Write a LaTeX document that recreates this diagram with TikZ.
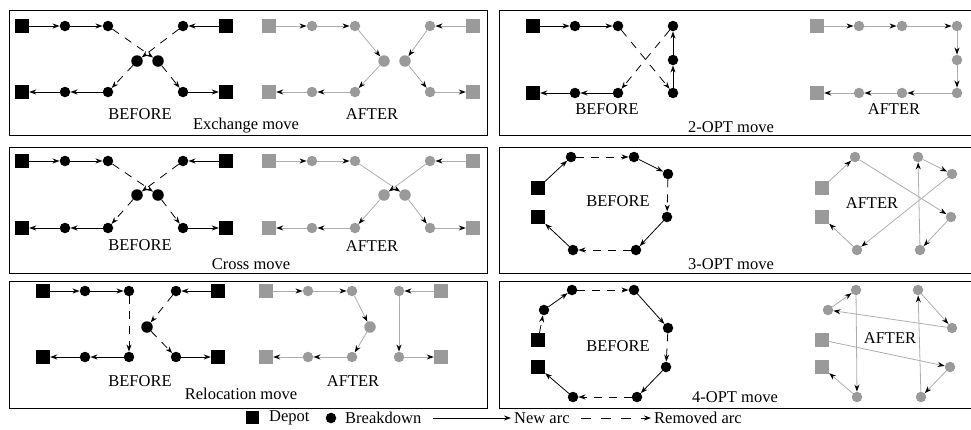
\documentclass[tikz,border=0pt]{standalone}
\usepackage{fontspec}
\setmainfont{Liberation Serif}
\usetikzlibrary{arrows.meta}
\definecolor{gnode}{HTML}{9A9A9A}
\definecolor{gline}{HTML}{ADADAD}
\begin{document}
\begin{tikzpicture}[x=1pt,y=-1pt,
 depot/.style={rectangle,fill=black,minimum size=14pt,inner sep=0pt},
 bd/.style={circle,fill=black,minimum size=10.5pt,inner sep=0pt},
 gdepot/.style={depot,fill=gnode},
 gbd/.style={bd,fill=gnode},
 arc/.style={draw=black,line width=0.8pt,-{Stealth[length=7pt,width=5pt,color=black]}},
 rarc/.style={arc,dash pattern=on 8pt off 7pt},
 garc/.style={arc,draw=gline},
 lbl/.style={font=\fontsize{16.5}{19}\selectfont,inner sep=0pt},
 panel/.style={draw=black,line width=1pt}]
\useasboundingbox (0,0) rectangle (971,429);
% panels
\draw[panel] (9,10) rectangle (487,135);
\draw[panel] (499,10) rectangle (985,135);
\draw[panel] (9,147) rectangle (487,273);
\draw[panel] (499,147) rectangle (985,273);
\draw[panel] (9,281) rectangle (487,408);
\draw[panel] (499,281) rectangle (985,408);

% ---------- Exchange move ----------
\node[depot] (e-d1) at (22,26) {};
\node[bd] (e-a1) at (65,26) {};
\node[bd] (e-a2) at (108,26) {};
\node[bd] (e-b1) at (183,26) {};
\node[depot] (e-d2) at (226,26) {};
\node[bd,minimum size=11.5pt] (e-m1) at (137,61) {};
\node[bd,minimum size=11.5pt] (e-m2) at (158,61) {};
\node[depot] (e-d3) at (22,92) {};
\node[bd] (e-c1) at (65,92) {};
\node[bd] (e-c2) at (108,92) {};
\node[bd] (e-f1) at (183,92) {};
\node[depot] (e-d4) at (226,92) {};
\draw[arc] (e-d1) -- (e-a1);
\draw[arc] (e-a1) -- (e-a2);
\draw[rarc] (e-a2) -- (e-m2);
\draw[arc] (e-d2) -- (e-b1);
\draw[rarc] (e-b1) -- (e-m1);
\draw[rarc] (e-m1) -- (e-c2);
\draw[arc] (e-c2) -- (e-c1);
\draw[arc] (e-c1) -- (e-d3);
\draw[rarc] (e-m2) -- (e-f1);
\draw[arc] (e-f1) -- (e-d4);
\node[lbl] (e-bef) at (140,114) {BEFORE};
\begin{scope}[xshift=247pt]
\node[gdepot] (ea-d1) at (22,26) {};
\node[gbd] (ea-a1) at (65,26) {};
\node[gbd] (ea-a2) at (108,26) {};
\node[gbd] (ea-b1) at (183,26) {};
\node[gdepot] (ea-d2) at (226,26) {};
\node[gbd,minimum size=11.5pt] (ea-m1) at (137,61) {};
\node[gbd,minimum size=11.5pt] (ea-m2) at (158,61) {};
\node[gdepot] (ea-d3) at (22,92) {};
\node[gbd] (ea-c1) at (65,92) {};
\node[gbd] (ea-c2) at (108,92) {};
\node[gbd] (ea-f1) at (183,92) {};
\node[gdepot] (ea-d4) at (226,92) {};
\node[lbl] (ea-aft) at (125,114) {AFTER};
\end{scope}
\draw[garc] (ea-d1) -- (ea-a1);
\draw[garc] (ea-a1) -- (ea-a2);
\draw[garc] (ea-a2) -- (ea-m1);
\draw[garc] (ea-m1) -- (ea-c2);
\draw[garc] (ea-c2) -- (ea-c1);
\draw[garc] (ea-c1) -- (ea-d3);
\draw[garc] (ea-d2) -- (ea-b1);
\draw[garc] (ea-b1) -- (ea-m2);
\draw[garc] (ea-m2) -- (ea-f1);
\draw[garc] (ea-f1) -- (ea-d4);
\node[lbl] (e-cap) at (246,126) {Exchange move};

% ---------- Cross move ----------
\node[depot] (c-d1) at (22,161) {};
\node[bd] (c-a1) at (65,161) {};
\node[bd] (c-a2) at (108,161) {};
\node[bd] (c-b1) at (183,161) {};
\node[depot] (c-d2) at (226,161) {};
\node[bd,minimum size=11.5pt] (c-m1) at (137,195) {};
\node[bd,minimum size=11.5pt] (c-m2) at (158,195) {};
\node[depot] (c-d3) at (22,228) {};
\node[bd] (c-c1) at (65,228) {};
\node[bd] (c-c2) at (108,228) {};
\node[bd] (c-f1) at (183,228) {};
\node[depot] (c-d4) at (226,228) {};
\draw[arc] (c-d1) -- (c-a1);
\draw[arc] (c-a1) -- (c-a2);
\draw[rarc] (c-a2) -- (c-m2);
\draw[arc] (c-d2) -- (c-b1);
\draw[rarc] (c-b1) -- (c-m1);
\draw[rarc] (c-m1) -- (c-c2);
\draw[arc] (c-c2) -- (c-c1);
\draw[arc] (c-c1) -- (c-d3);
\draw[rarc] (c-m2) -- (c-f1);
\draw[arc] (c-f1) -- (c-d4);
\node[lbl] (c-bef) at (140,245) {BEFORE};
\begin{scope}[xshift=247pt]
\node[gdepot] (ca-d1) at (22,161) {};
\node[gbd] (ca-a1) at (65,161) {};
\node[gbd] (ca-a2) at (108,161) {};
\node[gbd] (ca-b1) at (183,161) {};
\node[gdepot] (ca-d2) at (226,161) {};
\node[gbd,minimum size=11.5pt] (ca-m1) at (137,195) {};
\node[gbd,minimum size=11.5pt] (ca-m2) at (158,195) {};
\node[gdepot] (ca-d3) at (22,228) {};
\node[gbd] (ca-c1) at (65,228) {};
\node[gbd] (ca-c2) at (108,228) {};
\node[gbd] (ca-f1) at (183,228) {};
\node[gdepot] (ca-d4) at (226,228) {};
\node[lbl] (ca-aft) at (125,246) {AFTER};
\end{scope}
\draw[garc] (ca-d1) -- (ca-a1);
\draw[garc] (ca-a1) -- (ca-a2);
\draw[garc] (ca-a2) -- (ca-m2);
\draw[garc] (ca-m2) -- (ca-f1);
\draw[garc] (ca-f1) -- (ca-d4);
\draw[garc] (ca-d2) -- (ca-b1);
\draw[garc] (ca-b1) -- (ca-m1);
\draw[garc] (ca-m1) -- (ca-c2);
\draw[garc] (ca-c2) -- (ca-c1);
\draw[garc] (ca-c1) -- (ca-d3);
\node[lbl] (c-cap) at (251,264) {Cross move};

% ---------- Relocation move ----------
\node[depot] (r-d1) at (43,291) {};
\node[bd] (r-a1) at (85,291) {};
\node[bd] (r-a2) at (129,291) {};
\node[bd] (r-b1) at (176,291) {};
\node[depot] (r-d2) at (218,291) {};
\node[bd,minimum size=11.5pt] (r-m) at (147,327) {};
\node[depot] (r-d3) at (43,357) {};
\node[bd] (r-c1) at (85,357) {};
\node[bd] (r-c2) at (129,357) {};
\node[bd] (r-f1) at (176,357) {};
\node[depot] (r-d4) at (218,357) {};
\draw[arc] (r-d1) -- (r-a1);
\draw[arc] (r-a1) -- (r-a2);
\draw[rarc] (r-a2) -- (r-c2);
\draw[arc] (r-c2) -- (r-c1);
\draw[arc] (r-c1) -- (r-d3);
\draw[arc] (r-d2) -- (r-b1);
\draw[rarc] (r-b1) -- (r-m);
\draw[rarc] (r-m) -- (r-f1);
\draw[arc] (r-f1) -- (r-d4);
\node[lbl] (r-bef) at (140,381) {BEFORE};
\begin{scope}[xshift=223pt]
\node[gdepot] (ra-d1) at (43,291) {};
\node[gbd] (ra-a1) at (85,291) {};
\node[gbd] (ra-a2) at (129,291) {};
\node[gbd] (ra-b1) at (176,291) {};
\node[gdepot] (ra-d2) at (218,291) {};
\node[gbd,minimum size=11.5pt] (ra-m) at (147,327) {};
\node[gdepot] (ra-d3) at (43,357) {};
\node[gbd] (ra-c1) at (85,357) {};
\node[gbd] (ra-c2) at (129,357) {};
\node[gbd] (ra-f1) at (176,357) {};
\node[gdepot] (ra-d4) at (218,357) {};
\node[lbl] (ra-aft) at (130,381) {AFTER};
\end{scope}
\draw[garc] (ra-d1) -- (ra-a1);
\draw[garc] (ra-a1) -- (ra-a2);
\draw[garc] (ra-a2) -- (ra-m);
\draw[garc] (ra-m) -- (ra-c2);
\draw[garc] (ra-c2) -- (ra-c1);
\draw[garc] (ra-c1) -- (ra-d3);
\draw[garc] (ra-d2) -- (ra-b1);
\draw[garc] (ra-b1) -- (ra-f1);
\draw[garc] (ra-f1) -- (ra-d4);
\node[lbl] (r-cap) at (241,394) {Relocation move};

% ---------- 2-OPT move ----------
\node[depot] (t-d1) at (533,26) {};
\node[bd] (t-a1) at (575,26) {};
\node[bd] (t-a2) at (618,26) {};
\node[bd] (t-r1) at (673,26) {};
\node[bd] (t-r2) at (673,60) {};
\node[bd] (t-r3) at (673,93) {};
\node[depot] (t-d2) at (533,93) {};
\node[bd] (t-c1) at (575,93) {};
\node[bd] (t-c2) at (618,93) {};
\draw[arc] (t-d1) -- (t-a1);
\draw[arc] (t-a1) -- (t-a2);
\draw[rarc] (t-a2) -- (t-r3);
\draw[arc] (t-r3) -- (t-r2);
\draw[arc] (t-r2) -- (t-r1);
\draw[rarc] (t-r1) -- (t-c2);
\draw[arc] (t-c2) -- (t-c1);
\draw[arc] (t-c1) -- (t-d2);
\node[lbl] (t-bef) at (607,109) {BEFORE};
\begin{scope}[xshift=284pt]
\node[gdepot] (ta-d1) at (533,26) {};
\node[gbd] (ta-a1) at (575,26) {};
\node[gbd] (ta-a2) at (618,26) {};
\node[gbd] (ta-r1) at (673,26) {};
\node[gbd] (ta-r2) at (673,60) {};
\node[gbd] (ta-r3) at (673,93) {};
\node[gdepot] (ta-d2) at (533,93) {};
\node[gbd] (ta-c1) at (575,93) {};
\node[gbd] (ta-c2) at (618,93) {};
\node[lbl] (ta-aft) at (610,109) {AFTER};
\end{scope}
\draw[garc] (ta-d1) -- (ta-a1);
\draw[garc] (ta-a1) -- (ta-a2);
\draw[garc] (ta-a2) -- (ta-r1);
\draw[garc] (ta-r1) -- (ta-r2);
\draw[garc] (ta-r2) -- (ta-r3);
\draw[garc] (ta-r3) -- (ta-c2);
\draw[garc] (ta-c2) -- (ta-c1);
\draw[garc] (ta-c1) -- (ta-d2);
\node[lbl] (t-cap) at (731,127) {2-OPT move};

% ---------- 3-OPT move ----------
\node[depot] (h-d1) at (538,188) {};
\node[depot] (h-d2) at (538,217) {};
\node[bd] (h-tl) at (571,157) {};
\node[bd] (h-tr) at (634,157) {};
\node[bd] (h-ru) at (668,174) {};
\node[bd] (h-rl) at (667,217) {};
\node[bd] (h-br) at (636,250) {};
\node[bd] (h-bl) at (573,250) {};
\draw[arc] (h-d1) -- (h-tl);
\draw[rarc] (h-tl) -- (h-tr);
\draw[arc] (h-tr) -- (h-ru);
\draw[rarc] (h-ru) -- (h-rl);
\draw[arc] (h-rl) -- (h-br);
\draw[rarc] (h-br) -- (h-bl);
\draw[arc] (h-bl) -- (h-d2);
\node[lbl] (h-bef) at (618,201) {BEFORE};
\begin{scope}[xshift=284pt]
\node[gdepot] (ha-d1) at (538,188) {};
\node[gdepot] (ha-d2) at (538,217) {};
\node[gbd] (ha-tl) at (571,157) {};
\node[gbd] (ha-tr) at (634,157) {};
\node[gbd] (ha-ru) at (668,174) {};
\node[gbd] (ha-rl) at (667,217) {};
\node[gbd] (ha-br) at (636,250) {};
\node[gbd] (ha-bl) at (573,250) {};
\node[lbl] (ha-aft) at (588,203) {AFTER};
\end{scope}
\draw[garc] (ha-d1) -- (ha-tl);
\draw[garc] (ha-tl) -- (ha-rl);
\draw[garc] (ha-rl) -- (ha-br);
\draw[garc] (ha-br) -- (ha-tr);
\draw[garc] (ha-tr) -- (ha-ru);
\draw[garc] (ha-ru) -- (ha-bl);
\draw[garc] (ha-bl) -- (ha-d2);
\node[lbl] (h-cap) at (731,264) {3-OPT move};

% ---------- 4-OPT move ----------
\node[depot] (f-d1) at (538,340) {};
\node[depot] (f-d2) at (538,367) {};
\node[bd] (f-lu) at (544,310) {};
\node[bd] (f-tl) at (572,290) {};
\node[bd] (f-tr) at (634,290) {};
\node[bd] (f-ru) at (668,328) {};
\node[bd] (f-rl) at (666,367) {};
\node[bd] (f-br) at (637,397) {};
\node[bd] (f-bl) at (573,397) {};
\draw[rarc] (f-d1) -- (f-lu);
\draw[arc] (f-lu) -- (f-tl);
\draw[rarc] (f-tl) -- (f-tr);
\draw[arc] (f-tr) -- (f-ru);
\draw[rarc] (f-ru) -- (f-rl);
\draw[arc] (f-rl) -- (f-br);
\draw[rarc] (f-br) -- (f-bl);
\draw[arc] (f-bl) -- (f-d2);
\node[lbl] (f-bef) at (618,346) {BEFORE};
\begin{scope}[xshift=284pt]
\node[gdepot] (fa-d1) at (538,340) {};
\node[gdepot] (fa-d2) at (538,367) {};
\node[gbd] (fa-lu) at (544,310) {};
\node[gbd] (fa-tl) at (572,290) {};
\node[gbd] (fa-tr) at (634,290) {};
\node[gbd] (fa-ru) at (668,328) {};
\node[gbd] (fa-rl) at (666,367) {};
\node[gbd] (fa-br) at (637,397) {};
\node[gbd] (fa-bl) at (573,397) {};
\node[lbl] (fa-aft) at (606,338) {AFTER};
\end{scope}
\draw[garc] (fa-d1) -- (fa-rl);
\draw[garc] (fa-rl) -- (fa-br);
\draw[garc] (fa-br) -- (fa-tr);
\draw[garc] (fa-tr) -- (fa-ru);
\draw[garc] (fa-ru) -- (fa-lu);
\draw[garc] (fa-lu) -- (fa-tl);
\draw[garc] (fa-tl) -- (fa-bl);
\draw[garc] (fa-bl) -- (fa-d2);
\node[lbl] (f-cap) at (735,397) {4-OPT move};

% ---------- legend ----------
\node[depot,minimum size=13pt] (l-dep) at (252,417) {};
\node[lbl,anchor=west] (l-dept) at (269,418) {Depot};
\node[bd] (l-bd) at (331,418) {};
\node[lbl,anchor=west] (l-bdt) at (345,418) {Breakdown};
\coordinate (l-n1) at (433,418);
\coordinate (l-n2) at (511,418);
\draw[arc] (l-n1) -- (l-n2);
\node[lbl,anchor=west] (l-nt) at (514,418) {New arc};
\coordinate (l-r1) at (581,418);
\coordinate (l-r2) at (651,418);
\draw[arc,dash pattern=on 10pt off 10pt] (l-r1) -- (l-r2);
\node[lbl,anchor=west] (l-rt) at (654,418) {Removed arc};
\end{tikzpicture}
\end{document}
